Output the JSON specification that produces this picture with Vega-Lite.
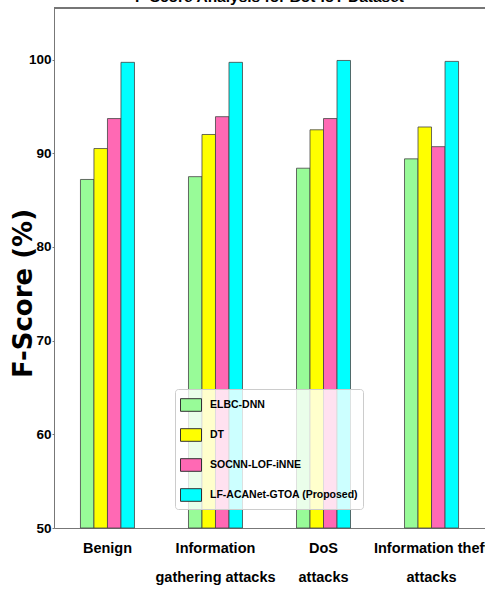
{
  "$schema": "https://vega.github.io/schema/vega-lite/v6.json",
  "autosize": "none",
  "width": 431,
  "height": 520,
  "padding": {"left": 54, "top": 8, "right": 0, "bottom": 62},
  "background": "white",
  "title": {
    "text": "F-Score Analysis for Bot-IoT Dataset",
    "font": "Liberation Sans",
    "fontSize": 15.5,
    "fontWeight": "bold",
    "anchor": "middle",
    "baseline": "alphabetic",
    "offset": 0,
    "dy": 10,
    "color": "black"
  },
  "config": {
    "view": {"stroke": null},
    "axis": {
      "labelFont": "Liberation Sans",
      "labelFontWeight": "bold",
      "labelColor": "black",
      "domainColor": "#777",
      "tickColor": "#777",
      "grid": false
    },
    "legend": {
      "labelFont": "Liberation Sans",
      "labelFontWeight": "bold",
      "labelColor": "black",
      "symbolStrokeColor": "#333",
      "symbolStrokeWidth": 1
    }
  },
  "data": {
    "values": [
      {"attack": "Benign", "method": "ELBC-DNN", "fscore": 87.2},
      {"attack": "Benign", "method": "DT", "fscore": 90.5},
      {"attack": "Benign", "method": "SOCNN-LOF-iNNE", "fscore": 93.7},
      {"attack": "Benign", "method": "LF-ACANet-GTOA (Proposed)", "fscore": 99.7},
      {"attack": "Information gathering attacks", "method": "ELBC-DNN", "fscore": 87.5},
      {"attack": "Information gathering attacks", "method": "DT", "fscore": 92.0},
      {"attack": "Information gathering attacks", "method": "SOCNN-LOF-iNNE", "fscore": 93.9},
      {"attack": "Information gathering attacks", "method": "LF-ACANet-GTOA (Proposed)", "fscore": 99.7},
      {"attack": "DoS attacks", "method": "ELBC-DNN", "fscore": 88.4},
      {"attack": "DoS attacks", "method": "DT", "fscore": 92.5},
      {"attack": "DoS attacks", "method": "SOCNN-LOF-iNNE", "fscore": 93.7},
      {"attack": "DoS attacks", "method": "LF-ACANet-GTOA (Proposed)", "fscore": 99.9},
      {"attack": "Information theft attacks", "method": "ELBC-DNN", "fscore": 89.4},
      {"attack": "Information theft attacks", "method": "DT", "fscore": 92.8},
      {"attack": "Information theft attacks", "method": "SOCNN-LOF-iNNE", "fscore": 90.7},
      {"attack": "Information theft attacks", "method": "LF-ACANet-GTOA (Proposed)", "fscore": 99.8}
    ]
  },
  "layer": [
    {
      "mark": {"type": "bar", "stroke": "#444", "strokeWidth": 0.8},
      "encoding": {
        "x": {
          "field": "attack",
          "type": "nominal",
          "sort": ["Benign", "Information gathering attacks", "DoS attacks", "Information theft attacks"],
          "scale": {"paddingInner": 0.5, "paddingOuter": 0.245},
          "axis": {
            "title": null,
            "labelAngle": 0,
            "ticks": false,
            "labelFontSize": 14.5,
            "labelLineHeight": 29,
            "labelPadding": 13,
            "labelLimit": 300,
            "labelExpr": "datum.value == 'Information gathering attacks' ? ['Information', 'gathering attacks'] : datum.value == 'DoS attacks' ? ['DoS', 'attacks'] : datum.value == 'Information theft attacks' ? ['Information theft', 'attacks'] : datum.value"
          }
        },
        "xOffset": {
          "field": "method",
          "type": "nominal",
          "sort": ["ELBC-DNN", "DT", "SOCNN-LOF-iNNE", "LF-ACANet-GTOA (Proposed)"],
          "scale": {"paddingInner": 0, "paddingOuter": 0}
        },
        "y": {
          "field": "fscore",
          "type": "quantitative",
          "scale": {"domain": [50, 105.5], "nice": false, "zero": false},
          "axis": {
            "title": "F-Score (%)",
            "titleFont": "DejaVu Sans",
            "titleFontWeight": "bold",
            "titleFontSize": 26,
            "titleColor": "black",
            "titleX": -31,
            "titleY": 285,
            "titleBaseline": "middle",
            "values": [50, 60, 70, 80, 90, 100],
            "labelFontSize": 13.5,
            "tickSize": 2,
            "labelPadding": 1
          }
        },
        "y2": {"datum": 50},
        "fill": {
          "field": "method",
          "type": "nominal",
          "sort": ["ELBC-DNN", "DT", "SOCNN-LOF-iNNE", "LF-ACANet-GTOA (Proposed)"],
          "scale": {
            "domain": ["ELBC-DNN", "DT", "SOCNN-LOF-iNNE", "LF-ACANet-GTOA (Proposed)"],
            "range": ["#98FB98", "#FFFF00", "#FF69B4", "#00FFFF"]
          },
          "legend": {
            "title": null,
            "orient": "none",
            "legendX": 121,
            "legendY": 381,
            "padding": 5,
            "fillColor": "rgba(255,255,255,0.8)",
            "strokeColor": "#ccc",
            "cornerRadius": 3,
            "symbolType": "M-1,-0.6H1V0.6H-1Z",
            "symbolSize": 441,
            "symbolOpacity": 1,
            "labelFontSize": 10.5,
            "labelOffset": 8,
            "labelLimit": 300,
            "rowPadding": 10
          }
        }
      }
    },
    {
      "mark": {"type": "rule", "color": "#777", "strokeWidth": 1},
      "encoding": {"y": {"datum": 105.5}}
    }
  ]
}
